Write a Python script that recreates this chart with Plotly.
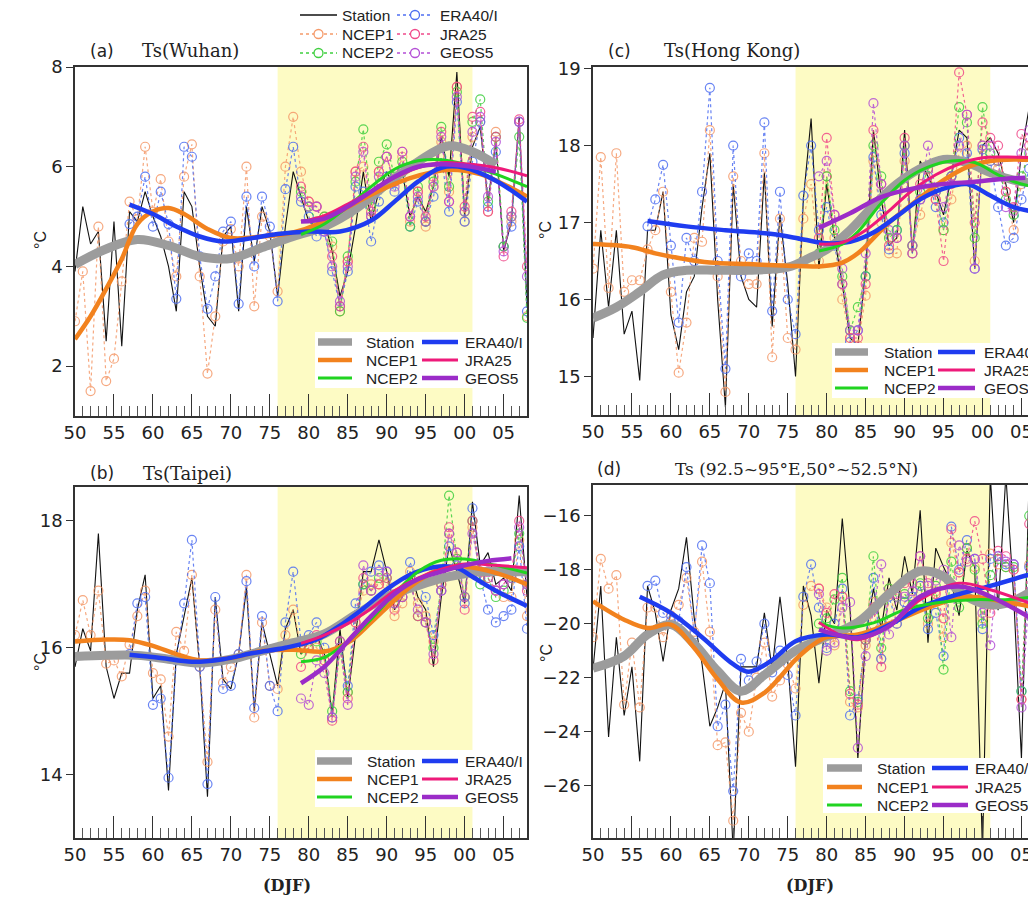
import plotly.graph_objects as go

# ---------------- data ----------------
years = list(range(1950, 2009))
era_years = list(range(1957, 2009))
new_years = list(range(1979, 2009))
xtick_vals = [1950, 1955, 1960, 1965, 1970, 1975, 1980, 1985, 1990, 1995, 2000, 2005]
xtick_text = ["50", "55", "60", "65", "70", "75", "80", "85", "90", "95", "00", "05"]
series_names = ["Station", "NCEP1", "ERA40/I", "NCEP2", "JRA25", "GEOS5"]

# (a) Wuhan
a_station = [3.9, 5.2, 4.45, 4.7, 2.5, 4.9, 2.4, 5.1, 4.9, 5.5,
             5.0, 4.6, 4.0, 3.1, 5.5, 5.2, 4.0, 3.0, 2.8, 4.6,
             4.8, 3.1, 5.2, 4.1, 5.2, 4.7, 3.4, 4.8, 5.9, 5.4,
             4.9, 4.8, 4.9, 4.3, 3.4, 3.9, 4.8, 5.9, 4.9, 5.5,
             5.9, 5.6, 5.9, 5.0, 5.4, 5.1, 5.6, 6.6, 5.8, 7.9,
             5.0, 6.4, 6.8, 5.3, 6.5, 4.3, 4.9, 7.0, 3.2]
a_ncep1 = [2.9, 3.9, 1.5, 4.8, 1.7, 2.15, 3.7, 5.3, 4.95, 6.4,
           5.1, 5.75, 4.5, 3.8, 5.8, 6.45, 3.8, 1.85, 3.0, 4.5,
           4.75, 4.0, 6.0, 3.2, 5.0, 4.6, 3.5, 6.0, 7.0, 5.9,
           5.3, 5.2, 5.0, 4.4, 3.1, 4.1, 5.9, 6.0, 5.0, 5.9,
           6.2, 5.7, 6.2, 4.9, 5.5, 4.8, 5.6, 6.5, 5.5, 7.6,
           4.9, 6.6, 6.9, 5.1, 6.7, 4.4, 4.9, 6.9, 3.0]
a_era = [4.85, 5.0, 5.8,
         4.8, 5.5, 4.85, 3.35, 6.4, 6.2, 4.2, 3.15, 3.8, 4.7,
         4.9, 3.25, 5.4, 4.0, 5.4, 4.8, 3.3, 5.55, 6.4, 5.3,
         5.0, 4.6, 4.7, 3.9, 3.2, 3.9, 5.6, 5.5, 4.5, 5.3,
         5.8, 5.5, 5.9, 4.8, 5.3, 4.9, 5.4, 6.2, 5.1, 7.3,
         4.9, 6.1, 6.9, 5.2, 6.3, 4.4, 4.8, 6.9, 3.1]
a_ncep2 = [5.5,
           5.2, 4.9, 5.0, 4.5, 3.1, 4.2, 5.7, 6.75, 5.2, 6.1,
           6.45, 5.8, 6.1, 4.8, 5.6, 4.9, 5.7, 6.8, 5.6, 7.5,
           5.1, 6.9, 7.35, 5.3, 6.6, 4.4, 5.0, 6.6, 2.97]
a_jra = [5.6,
         5.3, 5.2, 4.8, 4.2, 3.2, 4.1, 5.9, 6.4, 5.1, 5.9,
         6.2, 5.7, 6.3, 5.0, 5.5, 5.0, 5.8, 6.7, 5.3, 7.6,
         5.2, 7.0, 7.1, 5.1, 6.6, 4.2, 5.1, 6.95, 4.0]
a_geos = [5.4,
          5.2, 5.2, 4.7, 4.0, 3.3, 4.0, 5.8, 6.3, 5.0, 5.8,
          6.2, 5.6, 6.3, 5.0, 5.4, 4.9, 5.6, 6.6, 5.3, 7.4,
          5.1, 6.7, 7.0, 5.4, 6.5, 4.3, 5.0, 6.9, 3.8]
# smoothed curves (knots)
a_sm_station_x = [1950, 1954, 1958, 1962, 1966, 1970, 1974, 1978, 1982, 1986, 1990, 1994, 1998, 2001, 2004]
a_sm_station_y = [4.04, 4.35, 4.54, 4.42, 4.2, 4.16, 4.38, 4.6, 4.8, 5.15, 5.65, 6.1, 6.42, 6.3, 6.04]
a_sm_ncep1_x = [1950, 1952, 1954, 1956, 1958, 1960, 1962, 1964, 1967, 1970, 1974, 1978, 1981, 1984, 1988, 1993, 1998, 2002, 2005, 2008]
a_sm_ncep1_y = [2.54, 3.0, 3.55, 4.15, 4.85, 5.1, 5.17, 5.05, 4.75, 4.57, 4.6, 4.68, 4.84, 5.1, 5.44, 5.77, 5.94, 5.85, 5.65, 5.4]
a_sm_era_x = [1957, 1960, 1963, 1966, 1969, 1972, 1976, 1980, 1984, 1988, 1991, 1994, 1997, 2000, 2004, 2008]
a_sm_era_y = [5.24, 5.05, 4.8, 4.6, 4.5, 4.55, 4.65, 4.7, 4.7, 4.92, 5.3, 5.7, 5.98, 5.98, 5.72, 5.3]
a_sm_ncep2_x = [1979, 1982, 1985, 1988, 1991, 1994, 1997, 2000, 2004, 2008]
a_sm_ncep2_y = [4.64, 4.85, 5.2, 5.6, 5.95, 6.12, 6.14, 6.05, 5.85, 5.6]
a_sm_jra_x = [1979, 1982, 1985, 1988, 1991, 1994, 1997, 2000, 2004, 2008]
a_sm_jra_y = [4.9, 5.02, 5.25, 5.5, 5.78, 5.98, 6.08, 6.06, 5.98, 5.82]
a_sm_geos_x = [1979, 1982, 1985, 1988, 1991, 1994, 1997, 2000, 2004]
a_sm_geos_y = [4.9, 4.96, 5.2, 5.5, 5.8, 6.0, 6.05, 6.02, 5.9]

# (b) Taipei
b_station = [15.7, 16.3, 15.95, 17.8, 15.7, 15.2, 15.6, 15.6, 16.6, 17.15,
             15.2, 15.4, 13.75, 15.9, 16.5, 17.1, 15.7, 13.65, 16.8, 15.5,
             15.35, 15.9, 16.95, 15.0, 16.4, 15.9, 15.4, 16.3, 16.6, 15.9,
             16.1, 16.2, 15.9, 14.95, 16.3, 15.2, 16.2, 17.2, 17.2, 17.7,
             17.2, 16.6, 16.8, 17.2, 16.8, 16.6, 15.7, 16.8, 17.6, 17.2,
             16.7, 18.3, 17.3, 17.5, 17.0, 17.1, 16.9, 18.4, 16.8]
b_ncep1 = [16.2, 16.75, 16.2, 16.9, 15.75, 15.8, 15.55, 16.05, 16.5, 16.9,
           15.6, 15.5, 14.6, 16.25, 15.95, 17.15, 15.7, 14.2, 16.6, 15.45,
           15.7, 15.9, 17.15, 14.9, 16.4, 15.4, 15.35, 16.2, 16.6, 16.0,
           16.1, 16.0, 15.8, 14.9, 16.0, 15.3, 16.4, 16.9, 17.0, 17.0,
           17.0, 16.5, 16.7, 17.2, 16.7, 16.5, 16.1, 16.9, 17.8, 17.4,
           16.8, 17.9, 17.1, 17.2, 16.9, 16.8, 16.8, 17.7, 16.5]
b_era = [15.9, 16.7, 16.8,
         15.1, 15.2, 13.95, 15.8, 16.7, 17.7, 15.7, 13.85, 16.8, 15.35,
         15.4, 15.9, 17.05, 15.05, 16.5, 15.4, 15.0, 16.4, 17.2, 16.1,
         16.2, 16.4, 16.0, 14.9, 16.1, 15.4, 16.7, 17.0, 17.2, 17.3,
         17.2, 16.8, 16.9, 17.35, 17.0, 16.8, 16.2, 16.9, 17.6, 17.3,
         16.7, 18.2, 17.1, 16.6, 16.4, 16.5, 16.6, 17.6, 16.3]
b_ncep2 = [15.9,
           16.0, 16.1, 15.9, 15.0, 16.0, 15.3, 16.5, 17.0, 16.9, 17.1,
           17.1, 16.7, 16.8, 17.1, 16.5, 16.4, 16.0, 17.0, 18.4, 17.4,
           16.8, 18.0, 17.0, 17.1, 16.8, 16.9, 17.1, 17.8, 17.0]
b_jra = [15.7,
         16.0, 16.2, 15.8, 14.85, 16.1, 15.2, 16.4, 17.1, 16.9, 17.0,
         17.1, 16.6, 16.8, 17.1, 16.5, 16.4, 15.8, 17.0, 17.9, 17.5,
         16.6, 18.0, 17.2, 17.1, 16.9, 17.0, 17.2, 18.0, 16.9]
b_geos = [15.2,
          15.1, 15.8, 15.6, 14.9, 16.0, 15.1, 16.5, 17.3, 16.9, 17.2,
          17.2, 16.7, 16.8, 17.0, 16.6, 16.4, 15.9, 16.9, 17.8, 17.5,
          16.8, 17.8, 17.2, 17.2, 16.9, 17.0, 17.1, 17.9, 17.0]
b_sm_station_x = [1950, 1954, 1958, 1962, 1966, 1970, 1974, 1978, 1982, 1986, 1990, 1994, 1998, 2002, 2005, 2008]
b_sm_station_y = [15.86, 15.88, 15.88, 15.82, 15.76, 15.82, 15.95, 16.08, 16.22, 16.52, 16.8, 16.98, 17.12, 17.2, 17.2, 17.2]
b_sm_ncep1_x = [1950, 1954, 1957, 1960, 1963, 1966, 1970, 1974, 1978, 1982, 1985, 1988, 1991, 1994, 1997, 2000, 2004, 2008]
b_sm_ncep1_y = [16.1, 16.13, 16.12, 16.03, 15.9, 15.8, 15.84, 15.95, 15.97, 15.94, 16.08, 16.4, 16.75, 17.05, 17.25, 17.28, 17.18, 17.0]
b_sm_era_x = [1957, 1961, 1965, 1969, 1973, 1977, 1981, 1984, 1987, 1990, 1993, 1996, 1999, 2001, 2004, 2008]
b_sm_era_y = [15.89, 15.84, 15.78, 15.82, 15.92, 16.0, 16.13, 16.35, 16.62, 16.92, 17.15, 17.27, 17.26, 17.12, 16.9, 16.66]
b_sm_ncep2_x = [1979, 1982, 1985, 1988, 1991, 1994, 1997, 2000, 2004, 2008]
b_sm_ncep2_y = [15.78, 15.85, 16.1, 16.45, 16.85, 17.2, 17.38, 17.4, 17.3, 17.18]
b_sm_jra_x = [1979, 1982, 1985, 1988, 1991, 1994, 1997, 2000, 2004, 2008]
b_sm_jra_y = [16.07, 16.2, 16.38, 16.62, 16.9, 17.1, 17.24, 17.32, 17.3, 17.26]
b_sm_geos_x = [1979, 1982, 1985, 1988, 1991, 1994, 1997, 2000, 2003, 2006]
b_sm_geos_y = [15.44, 15.7, 16.1, 16.5, 16.85, 17.08, 17.2, 17.3, 17.37, 17.41]

# (c) Hong Kong
c_station = [15.5, 16.9, 15.9, 16.9, 15.55, 15.85, 14.95, 16.9, 16.9, 17.4,
             15.8, 15.35, 16.1, 16.3, 17.2, 17.9, 16.0, 14.6, 17.5, 16.3,
             16.0, 15.9, 17.65, 15.65, 17.1, 16.2, 15.0, 17.3, 18.35, 16.4,
             17.5, 16.8, 16.2, 15.5, 15.4, 16.4, 18.2, 17.3, 16.7, 16.8,
             18.2, 16.6, 17.8, 17.6, 17.4, 17.1, 17.6, 18.2, 18.1, 16.4,
             18.0, 18.1, 17.9, 17.5, 17.0, 17.9, 18.5, 17.5, 17.5]
c_ncep1 = [16.4, 17.85, 16.15, 17.9, 16.1, 16.25, 16.25, 16.65, 16.9, 17.4,
           16.1, 15.05, 15.7, 16.8, 16.75, 18.2, 16.3, 14.8, 17.6, 16.5,
           16.2, 16.2, 17.9, 15.25, 17.05, 15.5, 15.35, 17.05, 17.5, 16.5,
           17.6, 16.8, 16.0, 15.5, 15.4, 16.05, 17.8, 17.0, 16.6, 16.6,
           17.8, 16.7, 17.1, 17.5, 17.3, 16.9, 17.3, 17.9, 18.0, 16.5,
           18.0, 17.8, 17.7, 17.4, 16.9, 17.5, 18.1, 17.6, 17.6]
c_era = [16.95, 17.3, 17.75,
         16.7, 15.7, 16.8, 16.5, 17.4, 18.75, 16.5, 15.1, 18.0, 16.3,
         16.6, 16.5, 18.3, 15.85, 17.4, 16.0, 15.55, 17.35, 18.0, 16.9,
         17.2, 16.7, 16.2, 15.45, 15.6, 16.3, 17.85, 17.1, 16.65, 16.9,
         17.9, 16.6, 17.3, 17.6, 17.2, 17.0, 17.6, 18.1, 17.9, 16.4,
         17.95, 17.8, 17.2, 16.7, 16.8, 17.3, 17.7, 17.3, 17.3]
c_ncep2 = [16.6,
           17.6, 16.9, 16.3, 15.6, 15.9, 16.3, 18.0, 17.6, 16.8, 16.9,
           18.0, 16.7, 17.4, 17.7, 17.4, 16.9, 17.6, 18.5, 18.3, 16.8,
           18.5, 17.9, 17.8, 17.3, 17.1, 17.6, 17.9, 17.5, 17.5]
c_jra = [16.8,
         18.1, 17.1, 16.2, 15.5, 15.5, 16.2, 18.2, 17.5, 16.7, 16.8,
         18.1, 16.6, 17.5, 17.7, 17.3, 16.5, 17.5, 18.95, 18.4, 17.0,
         18.3, 18.1, 18.0, 17.4, 17.2, 18.15, 18.0, 17.8, 17.8]
c_geos = [17.6,
          17.8, 17.1, 16.4, 15.6, 15.6, 16.6, 18.55, 17.5, 16.9, 16.8,
          18.0, 16.7, 17.3, 18.0, 17.4, 17.2, 17.6, 18.0, 18.4, 16.4,
          18.0, 18.0, 17.8, 17.2, 17.15, 17.9, 18.2, 17.6, 17.6]
c_sm_station_x = [1950, 1953, 1956, 1959, 1962, 1966, 1970, 1975, 1978, 1980, 1983, 1986, 1989, 1992, 1995, 1998, 2001, 2004, 2008]
c_sm_station_y = [15.76, 15.9, 16.1, 16.32, 16.38, 16.38, 16.38, 16.42, 16.55, 16.65, 16.9, 17.22, 17.5, 17.7, 17.82, 17.78, 17.65, 17.55, 17.5]
c_sm_ncep1_x = [1950, 1955, 1958, 1961, 1965, 1970, 1975, 1979, 1982, 1984, 1988, 1992, 1995, 1998, 2001, 2004, 2008]
c_sm_ncep1_y = [16.72, 16.68, 16.6, 16.54, 16.48, 16.46, 16.44, 16.43, 16.48, 16.6, 17.0, 17.32, 17.55, 17.72, 17.8, 17.82, 17.8]
c_sm_era_x = [1957, 1962, 1967, 1973, 1977, 1980, 1983, 1986, 1989, 1992, 1995, 1998, 2001, 2004, 2008]
c_sm_era_y = [17.02, 16.95, 16.9, 16.85, 16.78, 16.73, 16.75, 16.87, 17.08, 17.3, 17.44, 17.5, 17.35, 17.2, 17.12]
c_sm_ncep2_x = [1979, 1982, 1984, 1987, 1990, 1993, 1996, 1999, 2002, 2005, 2008]
c_sm_ncep2_y = [16.63, 16.72, 16.88, 17.25, 17.55, 17.72, 17.8, 17.78, 17.62, 17.5, 17.45]
c_sm_jra_x = [1979, 1982, 1985, 1988, 1991, 1994, 1997, 2000, 2003, 2008]
c_sm_jra_y = [16.72, 16.74, 16.9, 17.15, 17.42, 17.62, 17.76, 17.84, 17.85, 17.84]
c_sm_geos_x = [1979, 1983, 1987, 1991, 1995, 1999, 2003, 2005.5]
c_sm_geos_y = [16.93, 17.12, 17.33, 17.44, 17.5, 17.53, 17.57, 17.58]

# (d) 92.5~95E, 50~52.5N
d_station = [-21.7, -18.6, -24.2, -20.5, -23.4, -21.6, -25.1, -18.6, -19.6, -21.4,
             -19.5, -18.7, -16.8, -19.8, -21.5, -23.8, -23.1, -22.2, -28.5, -21.6,
             -21.6, -21.6, -19.6, -21.7, -19.0, -21.4, -25.3, -18.6, -19.7, -22.2,
             -19.5, -20.0, -16.1, -19.5, -25.0, -20.5, -18.7, -20.2, -18.3, -19.5,
             -17.5, -18.9, -15.8, -20.7, -17.2, -17.9, -18.5, -19.7, -17.3, -17.9,
             -28.5, -14.5, -19.5, -14.5, -19.0, -25.0, -14.5, -19.0, -19.0]
d_ncep1 = [-20.5, -17.6, -18.7, -18.2, -23.0, -20.7, -23.1, -19.4, -19.4, -20.5,
           -19.7, -19.3, -18.3, -20.3, -17.7, -20.3, -24.5, -24.4, -27.3, -23.3,
           -24.0, -22.0, -20.7, -22.7, -22.1, -21.5, -22.4, -19.3, -18.6, -18.7,
           -19.4, -20.8, -19.0, -22.9, -23.1, -20.8, -19.2, -21.3, -18.7, -20.0,
           -19.2, -19.1, -18.6, -20.0, -18.8, -20.5, -17.0, -18.1, -17.2, -17.9,
           -19.8, -17.4, -17.8, -17.9, -18.0, -22.8, -17.8, -19.2, -19.2]
d_era = [-18.6, -18.4, -19.6,
         -19.9, -19.9, -17.9, -20.4, -17.1, -18.5, -23.8, -23.0, -26.2, -21.3,
         -22.1, -21.4, -20.0, -21.8, -21.0, -21.9, -23.4, -19.0, -17.8, -19.4,
         -20.9, -20.0, -18.7, -23.4, -22.8, -20.6, -18.3, -21.3, -19.0, -20.0,
         -19.2, -19.0, -18.6, -20.2, -19.6, -21.2, -16.4, -18.0, -16.9, -17.6,
         -20.2, -17.6, -17.5, -17.8, -17.8, -22.5, -17.9, -19.0, -19.0]
d_ncep2 = [-20.0,
           -19.8, -19.1, -18.3, -22.5, -22.9, -20.6, -17.5, -20.9, -18.7, -19.0,
           -18.9, -19.3, -18.5, -19.8, -18.6, -21.7, -17.7, -19.4, -17.2, -18.0,
           -20.0, -18.2, -17.6, -17.9, -17.9, -22.5, -16.0, -20.7, -20.7]
d_jra = [-18.7,
         -19.6, -18.9, -19.0, -22.6, -23.0, -20.6, -19.4, -21.6, -18.9, -18.9,
         -18.5, -18.5, -17.5, -18.5, -18.9, -19.8, -16.5, -18.1, -17.6, -16.2,
         -17.6, -19.6, -17.3, -17.5, -18.0, -22.8, -16.3, -20.4, -20.4]
d_geos = [-18.9,
          -21.0, -20.7, -19.4, -19.2, -24.6, -21.2, -19.5, -17.8, -20.4, -19.0,
          -19.0, -18.8, -17.5, -18.6, -18.4, -18.0, -20.5, -17.1, -17.7, -17.6,
          -19.6, -20.8, -17.5, -17.7, -17.8, -23.1, -18.9, -19.5, -19.5]
d_sm_station_x = [1950, 1954, 1957, 1960, 1963, 1966, 1969, 1972, 1976, 1979, 1984, 1988, 1992, 1995, 1997, 2000, 2003, 2008]
d_sm_station_y = [-21.65, -21.2, -20.4, -20.03, -20.75, -21.75, -22.5, -21.9, -21.0, -20.6, -19.95, -18.9, -18.05, -18.25, -18.8, -19.25, -19.25, -18.5]
d_sm_ncep1_x = [1950, 1954, 1957, 1960, 1963, 1966, 1969, 1972, 1976, 1978, 1980, 1984, 1988, 1993, 1998, 2003, 2008]
d_sm_ncep1_y = [-19.17, -19.85, -20.16, -20.03, -20.9, -22.06, -22.92, -22.56, -21.33, -20.83, -20.5, -20.4, -20.0, -19.4, -19.0, -19.2, -19.45]
d_sm_era_x = [1956, 1960, 1964, 1968, 1970, 1973, 1976, 1980, 1984, 1988, 1992, 1997, 2001, 2008]
d_sm_era_y = [-19.0, -19.6, -20.5, -21.5, -21.78, -21.35, -20.65, -20.4, -20.5, -20.05, -19.4, -18.9, -18.6, -18.0]
d_sm_ncep2_x = [1979, 1982, 1986, 1990, 1994, 1999, 2003, 2008]
d_sm_ncep2_y = [-19.97, -20.16, -19.97, -19.48, -19.23, -19.11, -19.11, -18.95]
d_sm_jra_x = [1979, 1982, 1984, 1988, 1992, 1997, 2001, 2008]
d_sm_jra_y = [-19.95, -20.46, -20.59, -20.1, -19.11, -18.5, -18.74, -19.45]
d_sm_geos_x = [1979, 1982, 1984, 1988, 1992, 1997, 2001, 2008]
d_sm_geos_y = [-20.22, -20.46, -20.53, -20.1, -18.99, -18.62, -18.99, -20.1]

# ---------------- styling ----------------
W, H = 1036, 899
OFF = 8  # the page body has an 8px margin; positions below are page pixels


def px(x):
    return (x - OFF) / W


def py(y):
    return 1 - (y - OFF) / H


RAW_COLORS = ["#111111", "#f59a6a", "#4f6ff2", "#3fcf3f", "#f04a8a", "#b44fd6"]
SM_COLORS = ["#9c9c9c", "#f2821e", "#1f3cf0", "#20d420", "#ee1a7a", "#9b2cc8"]
SM_WIDTHS = [9, 4.5, 4.5, 3, 3, 4.5]
LEG_WIDTHS = [7.5, 4.5, 4.5, 3, 3, 4.5]
TICK_FONT = dict(family="DejaVu Sans", size=18, color="#222")
LEG_FONT = dict(family="Liberation Sans", size=15.5, color="#222")
SERIF = "DejaVu Serif"

panels = [
    dict(ax="", raw=[a_station, a_ncep1, a_era, a_ncep2, a_jra, a_geos],
         sm=[(a_sm_station_x, a_sm_station_y), (a_sm_ncep1_x, a_sm_ncep1_y), (a_sm_era_x, a_sm_era_y),
             (a_sm_ncep2_x, a_sm_ncep2_y), (a_sm_jra_x, a_sm_jra_y), (a_sm_geos_x, a_sm_geos_y)]),
    dict(ax="2", raw=[b_station, b_ncep1, b_era, b_ncep2, b_jra, b_geos],
         sm=[(b_sm_station_x, b_sm_station_y), (b_sm_ncep1_x, b_sm_ncep1_y), (b_sm_era_x, b_sm_era_y),
             (b_sm_ncep2_x, b_sm_ncep2_y), (b_sm_jra_x, b_sm_jra_y), (b_sm_geos_x, b_sm_geos_y)]),
    dict(ax="3", raw=[c_station, c_ncep1, c_era, c_ncep2, c_jra, c_geos],
         sm=[(c_sm_station_x, c_sm_station_y), (c_sm_ncep1_x, c_sm_ncep1_y), (c_sm_era_x, c_sm_era_y),
             (c_sm_ncep2_x, c_sm_ncep2_y), (c_sm_jra_x, c_sm_jra_y), (c_sm_geos_x, c_sm_geos_y)]),
    dict(ax="4", raw=[d_station, d_ncep1, d_era, d_ncep2, d_jra, d_geos],
         sm=[(d_sm_station_x, d_sm_station_y), (d_sm_ncep1_x, d_sm_ncep1_y), (d_sm_era_x, d_sm_era_y),
             (d_sm_ncep2_x, d_sm_ncep2_y), (d_sm_jra_x, d_sm_jra_y), (d_sm_geos_x, d_sm_geos_y)]),
]
raw_x = [years, years, era_years, new_years, new_years, new_years]

fig = go.Figure()
for pi, p in enumerate(panels):
    xa, ya = "x" + p["ax"], "y" + p["ax"]
    for si in range(6):
        if si == 0:
            fig.add_trace(go.Scatter(
                x=raw_x[si], y=p["raw"][si], mode="lines", name=series_names[si],
                line=dict(color=RAW_COLORS[si], width=1.1), xaxis=xa, yaxis=ya))
        else:
            fig.add_trace(go.Scatter(
                x=raw_x[si], y=p["raw"][si], mode="lines+markers", name=series_names[si],
                line=dict(color=RAW_COLORS[si], width=1.2, dash="dot"),
                marker=dict(symbol="circle-open", size=9, color=RAW_COLORS[si], line=dict(width=1.2)),
                opacity=0.85, xaxis=xa, yaxis=ya))
    for si in range(6):
        sx, sy = p["sm"][si]
        fig.add_trace(go.Scatter(
            x=sx, y=sy, mode="lines", name=series_names[si] + " (smoothed)",
            line=dict(color=SM_COLORS[si], width=SM_WIDTHS[si], shape="spline", smoothing=1.0),
            xaxis=xa, yaxis=ya))

# ---------------- axes ----------------
xdom_left = [px(75), px(527)]
xdom_right = [px(593), 1.0]
right_end = 1950 + (W + OFF - 593) / 7.79
ydoms = {"": [py(416), py(67)], "2": [py(838), py(487)],
         "3": [py(415), py(67)], "4": [py(838), py(485)]}
xdoms = {"": xdom_left, "2": xdom_left, "3": xdom_right, "4": xdom_right}
xranges = {"": [1950, 2008], "2": [1950, 2008], "3": [1950, right_end], "4": [1950, right_end]}
yranges = {"": [1.0, 8.0], "2": [13.0, 18.535], "3": [14.5, 19.02], "4": [-27.94, -14.86]}
yticks = {"": [2, 4, 6, 8], "2": [14, 16, 18], "3": [15, 16, 17, 18, 19],
          "4": [-26, -24, -22, -20, -18, -16]}

layout_axes = {}
for k in ["", "2", "3", "4"]:
    layout_axes["xaxis" + k] = dict(
        domain=xdoms[k], anchor="y" + k, range=xranges[k], showgrid=False, zeroline=False,
        automargin=False,
        showline=True, linecolor="#333", linewidth=1.6, mirror=True,
        tickmode="array", tickvals=xtick_vals, ticktext=xtick_text,
        ticks="inside", ticklen=22, tickwidth=1.3, tickcolor="#333", tickfont=TICK_FONT,
        minor=dict(ticks="inside", ticklen=10, tickwidth=1.1, tickcolor="#555",
                   tick0=1950, dtick=1, showgrid=False))
    layout_axes["yaxis" + k] = dict(
        domain=ydoms[k], anchor="x" + k, range=yranges[k], showgrid=False, zeroline=False,
        automargin=False,
        showline=True, linecolor="#333", linewidth=1.6, mirror=(k in ["", "2"]),
        tickmode="array", tickvals=yticks[k], ticks="outside", ticklen=7, tickwidth=1.3,
        tickcolor="#333", tickfont=TICK_FONT)

# ---------------- shapes ----------------
shapes = []
for k in ["", "2", "3", "4"]:
    shapes.append(dict(type="rect", xref="x" + k, yref=("y" + k + " domain") if k else "y domain",
                       x0=1976, x1=2001, y0=0, y1=1, fillcolor="#fdfbc4", line=dict(width=0),
                       layer="below"))
for (x0, x1, y0, y1) in [(315, 525, 332, 388), (315, 525, 750, 807),
                         (832, W + OFF, 343, 398), (823, W + OFF, 758, 813)]:
    shapes.append(dict(type="rect", xref="paper", yref="paper", x0=px(x0), x1=px(x1),
                       y0=py(y1), y1=py(y0), fillcolor="white", line=dict(width=0), layer="above"))

ann = []


def text(x, y, s, font, xanchor="left", angle=0):
    ann.append(dict(x=px(x), y=py(y), xref="paper", yref="paper", text=s, showarrow=False,
                    xanchor=xanchor, yanchor="middle", font=font, textangle=angle))


# ---------------- legends (two columns each) ----------------
col_of = [0, 0, 1, 0, 1, 1]
row_of = [0, 1, 0, 2, 1, 2]


def draw_legend(cols, rows, raw=False):
    # cols: [(line_x0, line_x1, text_x), ...]; rows: [y0, y1, y2]
    for si in range(6):
        lx0, lx1, tx = cols[col_of[si]]
        y = rows[row_of[si]]
        if raw:
            color = RAW_COLORS[si]
            dash = "solid" if si == 0 else "dot"
            shapes.append(dict(type="line", xref="paper", yref="paper", x0=px(lx0), x1=px(lx1),
                               y0=py(y), y1=py(y), layer="above",
                               line=dict(color=color, width=1.3, dash=dash)))
            if si > 0:
                cx = (lx0 + lx1) / 2
                shapes.append(dict(type="circle", xref="paper", yref="paper", layer="above",
                                   x0=px(cx - 4.5), x1=px(cx + 4.5), y0=py(y + 4.5), y1=py(y - 4.5),
                                   fillcolor="white", line=dict(color=color, width=1.3)))
        else:
            shapes.append(dict(type="line", xref="paper", yref="paper", x0=px(lx0), x1=px(lx1),
                               y0=py(y), y1=py(y), layer="above",
                               line=dict(color=SM_COLORS[si], width=LEG_WIDTHS[si])))
        text(tx, y, series_names[si], LEG_FONT)


draw_legend([(300, 337, 340), (397, 433, 438)], [15, 34, 53], raw=True)
draw_legend([(318, 352, 364), (422, 458, 463)], [342, 360, 378])
draw_legend([(317, 352, 365), (422, 458, 463)], [761, 779, 797])
draw_legend([(835, 868, 882), (938, 975, 982)], [352, 370, 388])
draw_legend([(827, 862, 875), (932, 968, 973)], [768, 787, 805])

# ---------------- titles / labels ----------------
lab_font = dict(family="DejaVu Sans", size=17, color="#222")
ttl_font = dict(family=SERIF, size=18, color="#222")
text(88, 51, "(a)", lab_font)
text(140, 51, "Ts(Wuhan)", ttl_font)
text(88, 473, "(b)", lab_font)
text(141, 473, "Ts(Taipei)", ttl_font)
text(606, 51, "(c)", lab_font)
text(662, 51, "Ts(Hong Kong)", ttl_font)
text(595, 469, "(d)", lab_font)
text(673, 469, "Ts (92.5~95°E,50°~52.5°N)", dict(family=SERIF, size=17, color="#222"))
deg_font = dict(family="Liberation Sans", size=16, color="#222")
text(40, 240, "°C", deg_font, xanchor="center", angle=-90)
text(40, 662, "°C", deg_font, xanchor="center", angle=-90)
text(546, 230, "°C", deg_font, xanchor="center", angle=-90)
text(546, 653, "°C", deg_font, xanchor="center", angle=-90)
djf_font = dict(family=SERIF, size=16, color="#222")
text(287, 885, "<b>(DJF)</b>", djf_font, xanchor="center")
text(810, 885, "<b>(DJF)</b>", djf_font, xanchor="center")

fig.update_layout(
    template="none",
    width=W, height=H, autosize=False,
    margin=dict(l=0, r=0, t=0, b=0, autoexpand=False),
    paper_bgcolor="white", plot_bgcolor="white",
    shapes=shapes, annotations=ann, showlegend=False,
    **layout_axes,
)

fig.write_html("out.html")
